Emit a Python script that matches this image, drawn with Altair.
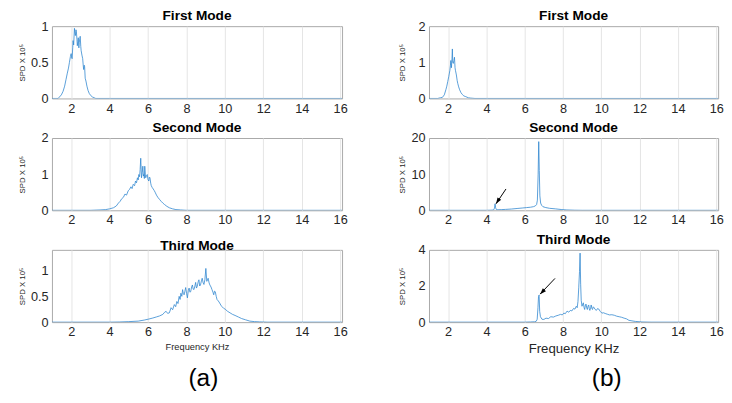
import altair as alt
import pandas as pd

FONT = "Liberation Sans"
BLUE = "#2f86d0"
FRAME = "#a8a8a8"

x_ticks = [2, 4, 6, 8, 10, 12, 14, 16]
x_domain = [1, 16.1]
y_title = "SPD X 10⁵"
x_title = "Frequency KHz"
panel_titles = ["First Mode", "Second Mode", "Third Mode"]
panel_labels = ["(a)", "(b)"]

# (a) First Mode
a1_f = [1.00, 1.32, 1.49, 1.58, 1.66, 1.73, 1.80, 1.86, 1.91, 1.96,
        2.00, 2.03, 2.05, 2.08, 2.10, 2.13, 2.17, 2.20, 2.22, 2.25,
        2.27, 2.30, 2.32, 2.35, 2.37, 2.40, 2.42, 2.45, 2.47, 2.50,
        2.52, 2.56, 2.60, 2.63, 2.65, 2.68, 2.70, 2.73, 2.77, 2.82,
        2.88, 2.94, 3.02, 3.11, 3.20, 3.28, 3.50, 16.10]
a1_s = [0.00, 0.00, 0.05, 0.10, 0.17, 0.26, 0.35, 0.42, 0.50, 0.58,
        0.62, 0.56, 0.55, 0.70, 0.80, 0.74, 0.97, 0.90, 0.87, 0.95,
        0.93, 0.82, 0.73, 0.79, 0.84, 0.70, 0.77, 0.83, 0.86, 0.72,
        0.66, 0.60, 0.55, 0.45, 0.40, 0.46, 0.44, 0.28, 0.24, 0.17,
        0.11, 0.07, 0.04, 0.02, 0.01, 0.00, 0.00, 0.00]

# (b) First Mode
b1_f = [1.00, 1.45, 1.60, 1.70, 1.80, 1.88, 1.93, 1.98, 2.03, 2.09,
        2.12, 2.14, 2.17, 2.20, 2.22, 2.24, 2.27, 2.30, 2.33, 2.36,
        2.38, 2.43, 2.47, 2.50, 2.55, 2.60, 2.67, 2.74, 2.82, 2.92,
        3.05, 3.18, 3.40, 16.10]
b1_s = [0.00, 0.00, 0.02, 0.03, 0.10, 0.24, 0.34, 0.47, 0.60, 0.78,
        0.92, 1.05, 0.85, 1.10, 1.37, 1.00, 0.97, 1.05, 1.14, 0.85,
        0.78, 0.65, 0.50, 0.42, 0.32, 0.24, 0.16, 0.11, 0.07, 0.05,
        0.02, 0.01, 0.00, 0.00]

# (a) Second Mode
a2_f = [1.00, 3.00, 3.50, 3.80, 4.00, 4.20, 4.35, 4.46, 4.55, 4.63,
        4.72, 4.80, 4.88, 4.97, 5.04, 5.11, 5.17, 5.23, 5.30, 5.35,
        5.40, 5.45, 5.49, 5.52, 5.56, 5.59, 5.62, 5.66, 5.70, 5.73,
        5.76, 5.78, 5.81, 5.83, 5.86, 5.88, 5.92, 5.96, 6.00, 6.04,
        6.07, 6.10, 6.14, 6.17, 6.22, 6.27, 6.32, 6.37, 6.44, 6.51,
        6.60, 6.68, 6.77, 6.86, 6.98, 7.11, 7.28, 7.45, 7.70, 8.00,
        16.10]
a2_s = [0.00, 0.00, 0.01, 0.02, 0.04, 0.07, 0.12, 0.20, 0.25, 0.32,
        0.36, 0.45, 0.42, 0.54, 0.58, 0.65, 0.60, 0.72, 0.68, 0.81,
        0.76, 0.90, 0.84, 0.99, 0.93, 1.13, 1.44, 0.90, 1.05, 1.22,
        0.95, 0.99, 0.88, 1.22, 1.00, 0.90, 0.96, 0.99, 0.85, 0.81,
        0.92, 0.90, 0.75, 0.68, 0.63, 0.59, 0.55, 0.50, 0.42, 0.36,
        0.30, 0.25, 0.20, 0.16, 0.11, 0.07, 0.04, 0.02, 0.01, 0.00,
        0.00]

# (b) Second Mode
b2_f = [1.00, 4.00, 4.30, 4.38, 4.42, 4.45, 4.48, 4.52, 4.60, 4.80,
        5.00, 5.30, 5.60, 5.90, 6.10, 6.30, 6.45, 6.55, 6.62, 6.66,
        6.70, 6.73, 6.76, 6.79, 6.83, 6.88, 6.95, 7.10, 7.30, 7.60,
        7.90, 8.20, 8.60, 9.00, 16.10]
b2_s = [0.00, 0.00, 0.05, 0.15, 0.60, 1.80, 0.70, 0.20, 0.15, 0.20,
        0.25, 0.35, 0.50, 0.65, 0.75, 0.85, 1.00, 1.20, 1.60, 2.80,
        10.0, 19.0, 11.0, 4.00, 2.00, 1.40, 1.00, 0.75, 0.55, 0.40,
        0.22, 0.10, 0.03, 0.00, 0.00]

# (a) Third Mode
a3_f = [1.00, 4.00, 4.50, 5.00, 5.49, 5.80, 6.04, 6.25, 6.43, 6.60,
        6.77, 6.86, 6.94, 7.02, 7.11, 7.20, 7.28, 7.37, 7.44, 7.50,
        7.56, 7.62, 7.67, 7.71, 7.76, 7.80, 7.84, 7.88, 7.92, 7.96,
        8.01, 8.05, 8.10, 8.14, 8.18, 8.22, 8.27, 8.31, 8.35, 8.39,
        8.44, 8.48, 8.52, 8.56, 8.61, 8.65, 8.69, 8.73, 8.78, 8.82,
        8.87, 8.91, 8.96, 9.01, 9.06, 9.10, 9.13, 9.18, 9.22, 9.28,
        9.33, 9.38, 9.42, 9.46, 9.50, 9.55, 9.59, 9.66, 9.73, 9.79,
        9.85, 9.93, 10.02, 10.14, 10.27, 10.40, 10.53, 10.70, 10.87, 11.08,
        11.30, 11.55, 11.81, 12.20, 16.10]
a3_s = [0.00, 0.00, 0.003, 0.01, 0.02, 0.04, 0.06, 0.08, 0.10, 0.12,
        0.15, 0.19, 0.21, 0.17, 0.18, 0.28, 0.24, 0.34, 0.30, 0.40,
        0.36, 0.50, 0.44, 0.56, 0.50, 0.63, 0.55, 0.53, 0.60, 0.67,
        0.55, 0.47, 0.62, 0.66, 0.58, 0.59, 0.68, 0.72, 0.64, 0.63,
        0.70, 0.77, 0.66, 0.69, 0.78, 0.82, 0.70, 0.72, 0.80, 0.85,
        0.76, 0.73, 0.82, 1.04, 0.79, 0.83, 0.85, 0.76, 0.72, 0.68,
        0.63, 0.58, 0.53, 0.60, 0.59, 0.50, 0.44, 0.41, 0.37, 0.33,
        0.30, 0.27, 0.25, 0.21, 0.18, 0.15, 0.13, 0.10, 0.07, 0.045,
        0.02, 0.01, 0.005, 0.00, 0.00]

# (b) Third Mode
b3_f = [1.00, 6.00, 6.30, 6.51, 6.60, 6.65, 6.69, 6.72, 6.75, 6.78,
        6.82, 6.90, 7.00, 7.11, 7.24, 7.36, 7.50, 7.62, 7.75, 7.87,
        7.96, 8.04, 8.12, 8.21, 8.30, 8.38, 8.46, 8.55, 8.62, 8.69,
        8.74, 8.78, 8.82, 8.86, 8.89, 8.92, 8.95, 8.99, 9.06, 9.10,
        9.13, 9.17, 9.20, 9.24, 9.27, 9.31, 9.34, 9.37, 9.40, 9.44,
        9.47, 9.51, 9.54, 9.58, 9.62, 9.68, 9.74, 9.80, 9.86, 9.94,
        10.03, 10.11, 10.20, 10.31, 10.42, 10.55, 10.68, 10.80, 10.93, 11.06,
        11.19, 11.32, 11.44, 11.60, 11.78, 12.12, 12.60, 16.10]
b3_s = [0.00, 0.00, 0.01, 0.02, 0.05, 0.16, 0.80, 1.42, 1.50, 0.60,
        0.30, 0.16, 0.15, 0.22, 0.20, 0.30, 0.28, 0.34, 0.38, 0.43,
        0.40, 0.50, 0.47, 0.61, 0.55, 0.65, 0.62, 0.76, 0.72, 0.88,
        0.80, 1.15, 1.90, 2.80, 3.82, 2.10, 1.20, 0.88, 1.07, 0.80,
        0.70, 0.95, 1.00, 0.78, 0.70, 0.90, 0.95, 0.75, 0.65, 0.80,
        0.95, 0.75, 0.70, 0.85, 0.80, 0.70, 0.65, 0.75, 0.73, 0.60,
        0.50, 0.52, 0.48, 0.44, 0.40, 0.41, 0.38, 0.33, 0.30, 0.27,
        0.22, 0.18, 0.10, 0.07, 0.04, 0.01, 0.00, 0.00]

# annotation arrows (tail -> head, data units)
arrow_b2 = {"f0": [5.02], "s0": [5.9], "f1": [4.50], "s1": [1.8]}
arrow_b3 = {"f0": [7.58], "s0": [2.42], "f1": [6.80], "s1": [1.55]}
ARROW_HEAD = "M0,0L-0.5,1.4L0.5,1.4Z"

y_domains = {"a1": [0, 1], "a2": [0, 2], "a3": [0, 1.4],
             "b1": [0, 2], "b2": [0, 20], "b3": [0, 4]}
y_ticks = {"a1": [0, 0.5, 1], "a2": [0, 1, 2], "a3": [0, 0.5, 1],
           "b1": [0, 1, 2], "b2": [0, 10, 20], "b3": [0, 2, 4]}


def make_panel(key, freq, spd, title, width, title_x, xtitle_size=None,
               arrow=None, arrow_angle=0):
    xaxis_kw = dict(values=x_ticks, grid=True, gridColor="#e4e4e4",
                    gridWidth=1, domain=False, ticks=False, tickSize=0,
                    labelPadding=4, labelFontSize=13, labelFont=FONT,
                    labelColor="#262626", labelAngle=0, labelFlush=False)
    if xtitle_size is not None:
        xaxis_kw.update(title=x_title, titleFont=FONT,
                        titleFontSize=xtitle_size, titleFontWeight="normal",
                        titleColor="#262626", titlePadding=3)
    else:
        xaxis_kw.update(title=None)
    xaxis = alt.Axis(**xaxis_kw)
    yaxis = alt.Axis(values=y_ticks[key], format="~g", grid=False,
                     domain=False, ticks=False, tickSize=0, labelPadding=4,
                     labelFontSize=13, labelFont=FONT, labelColor="#262626",
                     title=y_title, titleFont=FONT, titleFontSize=8,
                     titleFontWeight="normal", titleColor="#262626",
                     titleX=title_x, titleBaseline="middle")
    xscale = alt.Scale(domain=x_domain, nice=False, zero=False)
    yscale = alt.Scale(domain=y_domains[key], nice=False)

    df = pd.DataFrame({"f": freq, "s": spd})
    line = alt.Chart(df).mark_line(color=BLUE, strokeWidth=0.8, clip=True).encode(
        x=alt.X("f:Q", scale=xscale, axis=xaxis),
        y=alt.Y("s:Q", scale=yscale, axis=yaxis),
    )
    layers = [line]
    if arrow is not None:
        adf = pd.DataFrame(arrow)
        rule = alt.Chart(adf).mark_rule(color="black", strokeWidth=1).encode(
            x=alt.X("f0:Q", scale=xscale, axis=xaxis),
            y=alt.Y("s0:Q", scale=yscale, axis=yaxis),
            x2="f1:Q", y2="s1:Q",
        )
        head = alt.Chart(adf).mark_point(
            shape=ARROW_HEAD, filled=True, color="black", opacity=1,
            size=80, angle=arrow_angle, strokeWidth=0,
        ).encode(
            x=alt.X("f1:Q", scale=xscale, axis=xaxis),
            y=alt.Y("s1:Q", scale=yscale, axis=yaxis),
        )
        layers += [rule, head]
    ch = alt.layer(*layers).properties(
        width=width, height=74,
        title=alt.TitleParams(title, font=FONT, fontSize=14, fontWeight="bold",
                              color="black", offset=-3, anchor="middle"),
        view=alt.ViewBackground(stroke=FRAME, strokeWidth=1),
    )
    return ch


LW, RW = 297, 296
a1 = make_panel("a1", a1_f, a1_s, panel_titles[0], LW, -30.5)
b1 = make_panel("b1", b1_f, b1_s, panel_titles[0], RW, -27.5)
a2 = make_panel("a2", a2_f, a2_s, panel_titles[1], LW, -30.5)
b2 = make_panel("b2", b2_f, b2_s, panel_titles[1], RW, -27.5,
                arrow=arrow_b2, arrow_angle=213)
a3 = make_panel("a3", a3_f, a3_s, panel_titles[2], LW, -30.5, xtitle_size=9.5)
b3 = make_panel("b3", b3_f, b3_s, panel_titles[2], RW, -27.5, xtitle_size=13.5,
                arrow=arrow_b3, arrow_angle=225)


def label_chart(text, width, xpos):
    return alt.Chart(pd.DataFrame({"t": [text]})).mark_text(
        font=FONT, fontSize=25, color="black", baseline="middle", align="center"
    ).encode(
        text="t:N", x=alt.value(xpos), y=alt.value(18)
    ).properties(width=width, height=30,
                 view=alt.ViewBackground(stroke="transparent"))


lab_a = label_chart(panel_labels[0], LW, 155)
lab_b = label_chart(panel_labels[1], RW, 182)

chart = alt.concat(
    a1, b1, a2, b2, a3, b3, lab_a, lab_b,
    columns=2, align="each", spacing={"row": 4.5, "column": 51},
).properties(
    padding={"left": 10, "top": -4, "right": 0, "bottom": 0},
    background="white",
).configure_view(stroke="transparent")

chart.save("out.html", embed_options={"renderer": "svg", "actions": False})
